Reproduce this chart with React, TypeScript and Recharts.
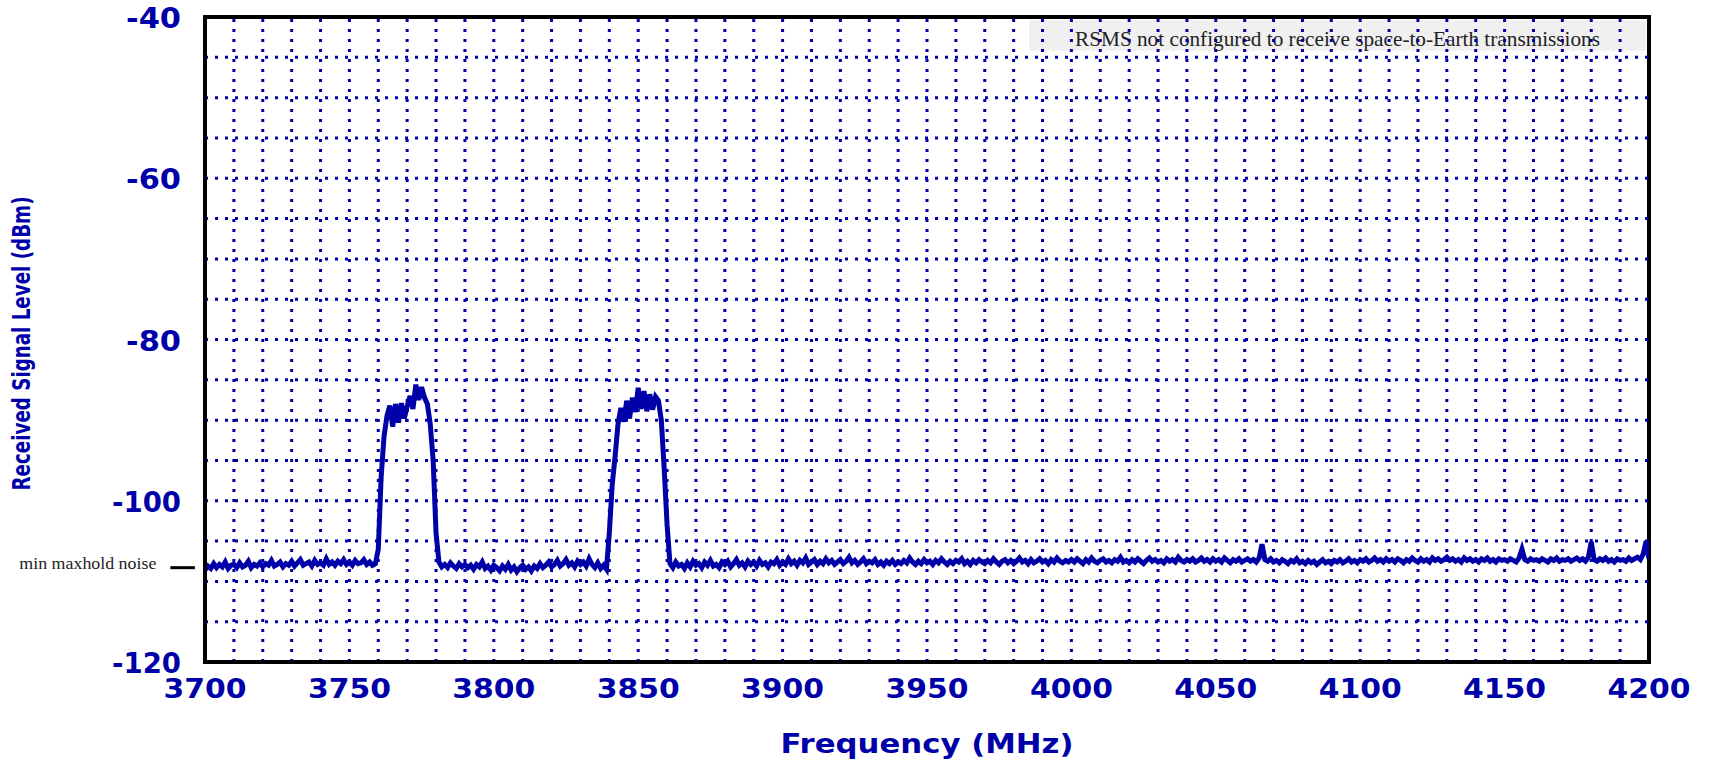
import React from "react";
import {
  LineChart,
  Line,
  XAxis,
  YAxis,
  ReferenceLine,
  ReferenceArea,
} from "recharts";

const BLUE = "#0000A8";

// received level in dBm, one value per MHz, split by band
const lowNoiseStart = 3700;
const lowNoise = [
  -108.6, -108.1, -108.4, -107.8, -108.3, -107.9, -108.2, -107.6, -108.4, -108.0,
  -107.9, -108.3, -107.7, -108.2, -108.0, -107.5, -108.3, -107.9, -108.1, -107.7,
  -108.2, -107.8, -108.0, -107.4, -108.1, -107.9, -107.6, -108.2, -107.8, -108.0,
  -107.5, -108.1, -107.7, -107.3, -108.0, -107.8, -107.6, -108.1, -107.4, -107.9,
  -107.7, -108.0, -107.2, -107.9, -107.6, -108.0, -107.5, -107.8, -107.3, -107.9,
  -107.6, -108.0, -107.4, -107.8, -107.7, -107.3, -107.9, -107.6, -108.0, -107.8,
];

const band1Start = 3760;
const band1 = [
  -106.0, -97.0, -92.0, -89.5, -88.2, -90.8, -88.0, -90.3, -87.9, -89.8,
  -88.3, -87.0, -88.6, -85.6, -87.5, -85.9, -87.2, -88.0, -90.5, -95.0,
  -104.0,
];

const midNoiseStart = 3781;
const midNoise = [
  -107.6, -108.2, -107.9, -108.3, -107.7, -108.1, -108.4, -107.8, -108.2, -107.9,
  -108.3, -108.0, -108.5, -107.9, -108.2, -107.6, -108.4, -108.1, -108.6, -108.0,
  -108.3, -108.7, -108.1, -108.5, -107.9, -108.6, -108.2, -108.8, -108.3, -108.0,
  -108.5, -108.2, -108.7, -108.1, -108.4, -107.8, -108.3, -108.0, -107.6, -108.2,
  -107.9, -107.4, -108.1, -107.8, -107.3, -108.0, -107.7, -108.2, -107.5, -107.9,
  -107.6, -108.1, -107.2, -107.9, -108.3, -107.7, -108.4, -108.0, -108.5,
];

const band2Start = 3840;
const band2 = [
  -104.0, -98.0, -94.5, -90.5, -88.5, -90.2, -87.6, -89.8, -87.2, -89.0,
  -86.0, -88.6, -86.4, -88.9, -86.8, -88.7, -87.1, -87.6, -90.0, -96.0,
  -103.0,
];

const highNoiseStart = 3861;
const highNoise = [
  -107.8, -108.3, -107.6, -108.1, -107.9, -108.4, -107.7, -108.2, -107.5, -108.0,
  -107.8, -108.3, -107.6, -108.0, -107.4, -108.1, -107.9, -108.3, -107.6, -107.9,
  -107.5, -108.2, -107.8, -107.3, -108.0, -107.7, -108.2, -107.5, -107.9, -107.6,
  -108.1, -107.4, -107.9, -107.7, -108.2, -107.6, -107.8, -107.3, -108.0, -107.6,
  -107.9, -107.2, -107.8, -107.5, -108.0, -107.4, -107.7, -107.1, -107.9, -107.6,
  -107.3, -107.9, -107.5, -107.8, -107.2, -107.7, -107.4, -107.9, -107.6, -107.3,
  -107.8, -107.5, -107.0, -107.7, -107.4, -107.9, -107.6, -107.2, -107.8, -107.5,
  -107.7, -107.3, -107.9, -107.6, -108.0, -107.5, -107.8, -107.4, -107.9, -107.6,
  -107.8, -107.4, -107.7, -107.1, -107.6, -107.9, -107.5, -107.8, -107.3, -107.7,
  -107.5, -107.9, -107.4, -107.7, -107.2, -107.6, -107.9, -107.5, -107.8, -107.4,
  -107.6, -107.2, -107.8, -107.5, -107.9, -107.4, -107.7, -107.3, -107.6, -107.8,
  -107.4, -107.7, -107.2, -107.6, -107.9, -107.5, -107.3, -107.7, -107.4, -107.8,
  -107.5, -107.1, -107.6, -107.4, -107.8, -107.3, -107.7, -107.5, -107.2, -107.6,
  -107.4, -107.8, -107.3, -107.6, -107.1, -107.5, -107.7, -107.4, -107.6, -107.3,
  -107.6, -107.2, -107.5, -107.8, -107.3, -107.6, -107.1, -107.5, -107.7, -107.4,
  -107.2, -107.6, -107.4, -107.7, -107.3, -107.5, -107.0, -107.6, -107.4, -107.7,
  -107.3, -107.6, -107.2, -107.5, -107.8, -107.4, -107.1, -107.5, -107.3, -107.6,
  -107.4, -107.7, -107.2, -107.5, -107.3, -107.6, -107.0, -107.4, -107.6, -107.3,
  -107.5, -107.2, -107.6, -107.4, -107.1, -107.5, -107.3, -107.6, -107.2, -107.5,
  -107.3, -107.6, -107.1, -107.4, -107.7, -107.3, -107.5, -107.2, -107.6, -107.4,
  -107.2, -107.5, -107.3, -107.6, -107.1, -105.4, -107.3, -107.5, -107.2, -107.6,
  -107.4, -107.7, -107.3, -107.5, -107.8, -107.4, -107.6, -107.2, -107.7, -107.5,
  -107.8, -107.4, -107.7, -107.5, -107.9, -107.6, -107.3, -107.7, -107.5, -107.8,
  -107.4, -107.6, -107.3, -107.7, -107.5, -107.2, -107.6, -107.4, -107.7, -107.3,
  -107.5, -107.2, -107.6, -107.4, -107.1, -107.5, -107.3, -107.6, -107.2, -107.5,
  -107.3, -107.6, -107.2, -107.4, -107.7, -107.3, -107.5, -107.1, -107.4, -107.6,
  -107.2, -107.5, -107.3, -107.6, -107.1, -107.4, -107.2, -107.5, -107.3, -107.0,
  -107.4, -107.2, -107.5, -107.3, -107.6, -107.1, -107.4, -107.2, -107.5, -107.3,
  -107.6, -107.2, -107.4, -107.1, -107.5, -107.3, -107.6, -107.2, -107.4, -107.3,
  -107.5, -107.2, -107.4, -107.6, -107.1, -106.0, -107.3, -107.5, -107.2, -107.4,
  -107.3, -107.5, -107.2, -107.4, -107.6, -107.2, -107.4, -107.1, -107.5, -107.3,
  -107.4, -107.2, -107.5, -107.3, -107.1, -107.4, -107.2, -107.5, -107.0, -105.1,
  -107.3, -107.5, -107.2, -107.4, -107.1, -107.5, -107.3, -107.6, -107.2, -107.4,
  -107.3, -107.5, -107.1, -107.4, -107.2, -107.0, -107.3, -106.6, -105.0, -107.2,
];

const xTicks = [3700, 3750, 3800, 3850, 3900, 3950, 4000, 4050, 4100, 4150, 4200];
const yTicks = [-120, -100, -80, -60, -40];
const xGrid = [
  3710, 3720, 3730, 3740, 3750, 3760, 3770, 3780, 3790, 3800, 3810, 3820, 3830, 3840,
  3850, 3860, 3870, 3880, 3890, 3900, 3910, 3920, 3930, 3940, 3950, 3960, 3970, 3980,
  3990, 4000, 4010, 4020, 4030, 4040, 4050, 4060, 4070, 4080, 4090, 4100, 4110, 4120,
  4130, 4140, 4150, 4160, 4170, 4180, 4190,
];
const yGrid = [-115, -110, -105, -100, -95, -90, -85, -80, -75, -70, -65, -60, -55, -50, -45];

const noiseMark = -108.3;
const bannerText = "RSMS not configured to receive space-to-Earth transmissions";

const segments: [number, number[]][] = [
  [lowNoiseStart, lowNoise],
  [band1Start, band1],
  [midNoiseStart, midNoise],
  [band2Start, band2],
  [highNoiseStart, highNoise],
];
const trace = segments.flatMap(([start, vals]) =>
  vals.map((v, i) => ({ f: start + i, dbm: v }))
);

const tickFont = "'DejaVu Sans', sans-serif";

const XTick = (props: any) => {
  const { x, y, payload } = props;
  return (
    <text
      x={x}
      y={y + 36}
      textAnchor="middle"
      fill={BLUE}
      fontFamily={tickFont}
      fontWeight="bold"
      fontSize={27}
      textLength={83}
      lengthAdjust="spacingAndGlyphs"
    >
      {payload.value}
    </text>
  );
};

const YTick = (props: any) => {
  const { x, y, payload } = props;
  const s = String(payload.value);
  return (
    <text
      x={x - 24}
      y={y + 11}
      textAnchor="end"
      fill={BLUE}
      fontFamily={tickFont}
      fontWeight="bold"
      fontSize={28}
      textLength={s.length > 3 ? 69 : 55}
      lengthAdjust="spacingAndGlyphs"
    >
      {s}
    </text>
  );
};

const xTitle = (props: any) => {
  const vb = props.viewBox || { x: 205, y: 662, width: 1444 };
  return (
    <text
      x={vb.x + vb.width / 2}
      y={vb.y + 91}
      textAnchor="middle"
      fill={BLUE}
      fontFamily={tickFont}
      fontWeight="bold"
      fontSize={27}
      textLength={293}
      lengthAdjust="spacingAndGlyphs"
    >
      Frequency (MHz)
    </text>
  );
};

const yTitle = (props: any) => {
  const vb = props.viewBox || { x: 145, y: 17, height: 645 };
  const cx = vb.x - 123;
  const cy = vb.y + vb.height / 2 + 4;
  return (
    <text
      transform={`translate(${cx},${cy}) rotate(-90)`}
      textAnchor="middle"
      dominantBaseline="central"
      fill={BLUE}
      fontFamily="'DejaVu Sans Condensed', 'DejaVu Sans', sans-serif"
      fontWeight="bold"
      fontSize={24}
      textLength={294}
      lengthAdjust="spacingAndGlyphs"
    >
      Received Signal Level (dBm)
    </text>
  );
};

const bannerLabel = (props: any) => {
  const vb = props.viewBox || {};
  return (
    <text
      x={vb.x + vb.width / 2}
      y={vb.y + vb.height / 2 + 10}
      textAnchor="middle"
      fill="#222"
      fontFamily="'Liberation Serif', serif"
      fontSize={21}
      textLength={525}
      lengthAdjust="spacingAndGlyphs"
    >
      {bannerText}
    </text>
  );
};

const noiseLabel = (props: any) => {
  const vb = props.viewBox || {};
  return (
    <text
      x={vb.x - 14}
      y={vb.y + 1}
      textAnchor="end"
      fill="#222"
      fontFamily="'Liberation Serif', serif"
      fontSize={16}
      textLength={137}
      lengthAdjust="spacingAndGlyphs"
    >
      min maxhold noise
    </text>
  );
};

export default function App() {
  return (
    <div style={{ position: "absolute", left: 0, top: 0, width: 1709, height: 760, background: "#fff" }}>
      <LineChart
        width={1709}
        height={760}
        data={trace}
        margin={{ top: 17, right: 60, bottom: 38, left: 145 }}
      >
        <XAxis
          type="number"
          dataKey="f"
          domain={[3700, 4200]}
          ticks={xTicks}
          interval={0}
          allowDataOverflow
          height={60}
          tickSize={0}
          tickMargin={0}
          tickLine={false}
          axisLine={{ stroke: "#000", strokeWidth: 4 }}
          tick={(p: any) => <XTick {...p} />}
          label={{ content: xTitle }}
        />
        <YAxis
          type="number"
          domain={[-120, -40]}
          ticks={yTicks}
          interval={0}
          allowDataOverflow
          width={60}
          tickSize={0}
          tickMargin={0}
          tickLine={false}
          axisLine={{ stroke: "#000", strokeWidth: 4 }}
          tick={(p: any) => <YTick {...p} />}
          label={{ content: yTitle }}
        />
        {xGrid.map((v) => (
          <ReferenceLine
            key={`vx-${v}`}
            x={v}
            stroke={BLUE}
            strokeWidth={3}
            strokeDasharray="3 7"
          />
        ))}
        {yGrid.map((v) => (
          <ReferenceLine
            key={`hy-${v}`}
            y={v}
            stroke={BLUE}
            strokeWidth={3}
            strokeDasharray="3 7"
          />
        ))}
        <ReferenceArea
          x1={3985.3}
          x2={4199}
          y1={-44.2}
          y2={-40.4}
          fill="#f0f0f0"
          fillOpacity={1}
          stroke="none"
          label={{ content: bannerLabel }}
        />
        <Line
          type="linear"
          dataKey="dbm"
          stroke={BLUE}
          strokeWidth={5}
          strokeLinejoin="miter"
          dot={false}
          isAnimationActive={false}
        />
        <ReferenceArea
          x1={3700}
          x2={4200}
          y1={-120}
          y2={-40}
          fill="none"
          stroke="#000"
          strokeWidth={4}
        />
        <ReferenceLine
          segment={[
            { x: 3688, y: noiseMark },
            { x: 3696.5, y: noiseMark },
          ]}
          stroke="#000"
          strokeWidth={3}
          ifOverflow="visible"
          label={{ content: noiseLabel }}
        />
      </LineChart>
    </div>
  );
}
